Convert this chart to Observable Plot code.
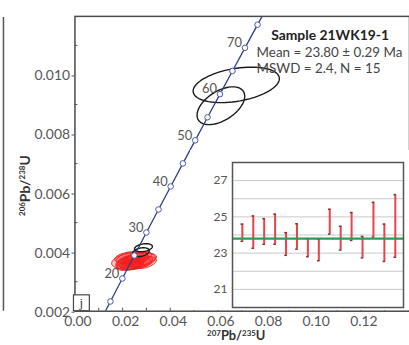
<!DOCTYPE html>
<html>
<head>
<meta charset="utf-8">
<script src="https://cdn.jsdelivr.net/npm/d3@7"></script>
<script src="https://cdn.jsdelivr.net/npm/@observablehq/plot@0.6"></script>
<style>
  html, body { margin: 0; padding: 0; background: #fff; overflow: hidden; }
  #wrap { position: relative; width: 409px; height: 345px; overflow: hidden; }
  #main { position: absolute; left: 0; top: 0; }
  #inset { position: absolute; left: 190px; top: 150px; }
</style>
</head>
<body>
<div id="wrap"><div id="main"></div><div id="inset"></div></div>
<script>
// Concordia reference points (age in Ma) with their isotope ratios
const concordiaAge = [10, 15, 20, 25, 30, 35, 40, 45, 50, 55, 60, 65, 70, 75, 80];
const concordia207 = [0.0098972, 0.0148824, 0.0198923, 0.0249269, 0.0299863, 0.0350707, 0.0401802, 0.0453150,
                      0.0504750, 0.0556606, 0.0608718, 0.0661088, 0.0713714, 0.0766601, 0.0819749];
const concordia206 = [0.0015525, 0.0023296, 0.0031073, 0.0038857, 0.0046646, 0.0054441, 0.0062243, 0.0070050,
                      0.0077864, 0.0085684, 0.0093509, 0.0101341, 0.0109179, 0.0117023, 0.0124873];
const labelledAges = [20, 30, 40, 50, 60, 70];

// Inherited / discordant analyses (black error ellipses): centre, 2σ half-widths, error correlation
const oldX   = [0.0677, 0.06125, 0.02875, 0.0277];
const oldY   = [0.009664, 0.008958, 0.004151, 0.004000];
const oldSX  = [0.0181, 0.0100, 0.00375, 0.0035];
const oldSY  = [0.00060, 0.00064, 0.000135, 0.00015];
const oldRho = [0.35, 0.5, 0.3, 0.3];

// Analyses used in the weighted mean (red error ellipses)
const meanX   = [0.02458, 0.02333, 0.02583, 0.02208, 0.02708, 0.02417, 0.02125, 0.02792,
                 0.02292, 0.02542, 0.02042, 0.02667, 0.02375, 0.02250, 0.02917];
const meanY   = [0.003714, 0.003647, 0.003781, 0.003680, 0.003680, 0.003580, 0.003781, 0.003848,
                 0.003815, 0.003613, 0.003613, 0.003748, 0.003748, 0.003546, 0.003647];
const meanSX  = [0.00917, 0.00583, 0.00500, 0.00417, 0.00542, 0.00458, 0.00375, 0.00417,
                 0.00625, 0.00667, 0.00333, 0.00750, 0.00375, 0.00500, 0.00500];
const meanSY  = [0.00030, 0.00023, 0.00020, 0.00020, 0.00020, 0.00017, 0.00017, 0.00017,
                 0.00020, 0.00020, 0.00017, 0.00023, 0.00013, 0.00017, 0.00020];
const meanRho = [0.3, 0.4, 0.35, 0.3, 0.4, 0.3, 0.35, 0.4, 0.3, 0.35, 0.3, 0.4, 0.3, 0.35, 0.4];

// Axis ticks of the concordia diagram
const xTicks = [0, 0.02, 0.04, 0.06, 0.08, 0.10, 0.12];
const xMinorTicks = [0, 0.01, 0.02, 0.03, 0.04, 0.05, 0.06, 0.07, 0.08, 0.09, 0.10, 0.11, 0.12, 0.13];
const yTicks = [0.002, 0.004, 0.006, 0.008, 0.010];
const yMinorTicks = [0.003, 0.005, 0.007, 0.009, 0.011];

// Weighted-mean inset: individual 206Pb/238U ages with 2σ error bars (Ma)
const spotNo   = [1, 2, 3, 4, 5, 6, 7, 8, 9, 10, 11, 12, 13, 14, 15];
const ageHigh  = [24.60, 25.05, 24.90, 25.15, 24.13, 24.62, 23.80, 23.77, 25.42, 24.48, 25.24, 23.92, 25.80, 24.60, 26.23];
const ageLow   = [23.65, 23.27, 23.49, 23.49, 22.88, 23.22, 22.80, 22.58, 24.05, 23.17, 23.70, 22.74, 23.89, 22.54, 22.77];
const meanAge  = 23.80;
const insetTicks = [21, 23, 25, 27];
const insetGrid  = [21, 22, 23, 24, 25, 26, 27];

// Closed outline of a correlated error ellipse, in data units
function ellipsePoints(cx, cy, sx, sy, rho, id) {
  const k = Math.sqrt(1 - rho * rho);
  const pts = [];
  for (let i = 0; i <= 72; i++) {
    const t = (i / 72) * 2 * Math.PI;
    pts.push({id, x: cx + sx * Math.cos(t), y: cy + sy * (rho * Math.cos(t) + k * Math.sin(t))});
  }
  return pts;
}
const oldEllipses = oldX.flatMap((_, i) => ellipsePoints(oldX[i], oldY[i], oldSX[i], oldSY[i], oldRho[i], "o" + i));
const meanEllipses = meanX.flatMap((_, i) => ellipsePoints(meanX[i], meanY[i], meanSX[i], meanSY[i], meanRho[i], "m" + i));

const concordia = concordiaAge.map((a, i) => ({age: a, x: concordia207[i], y: concordia206[i]}));
const concordiaKnots = concordia.filter(d => d.age >= 15 && d.age <= 75);
const concordiaLabels = concordia.filter(d => labelledAges.includes(d.age));

const W = 412, H = 345, ML = 75, MT = 16, MB = 32;
const frameW = W - ML, frameH = H - MT - MB;

const main = Plot.plot({
  width: W, height: H,
  marginLeft: ML, marginRight: 0, marginTop: MT, marginBottom: MB,
  x: {domain: [0, frameW / 2400]},
  y: {domain: [0.002, 0.002 + frameH / 29750]},
  style: {fontFamily: "Lato, 'Noto Sans', sans-serif", fontSize: "14px", color: "#555", background: "#fff", overflow: "visible"},
  marks: [
    Plot.axisX({ticks: xTicks, tickSize: 0, tickPadding: 5, dx: 3, tickFormat: d3.format(".2f"), label: null, fill: "#555"}),
    Plot.axisY({ticks: yTicks, tickSize: 3, tickPadding: 2, dy: 1, tickFormat: d3.format(".3f"), label: null, fill: "#555", stroke: "#555"}),
    Plot.ruleX(xMinorTicks, {insetTop: frameH - 3, stroke: "#555", strokeWidth: 1}),
    Plot.ruleY(yMinorTicks, {insetRight: frameW - 3, stroke: "#555", strokeWidth: 1}),
    Plot.line(meanEllipses, {x: "x", y: "y", z: "id", fill: "#ff1c1c", fillOpacity: 0.26, stroke: "#e4221f", strokeWidth: 1, clip: true}),
    Plot.line(oldEllipses, {x: "x", y: "y", z: "id", stroke: "#1a1a1a", strokeWidth: 1.4, clip: true}),
    Plot.line(concordia, {x: "x", y: "y", stroke: "#2f3c86", strokeWidth: 1.3, clip: true}),
    Plot.dot(concordiaKnots, {x: "x", y: "y", r: 2.8, fill: "#fff", stroke: "#4a58a8", strokeWidth: 1}),
    Plot.text(concordiaLabels, {x: "x", y: "y", text: d => String(d.age), textAnchor: "end", dx: -3, dy: -5, fontSize: 13, fill: "#555"}),
    Plot.text(["Sample 21WK19-1"], {frameAnchor: "top-left", dx: 332 - ML, dy: 30 - MT, textAnchor: "middle", lineAnchor: "top", fontWeight: "bold", fontSize: 14, fill: "#222"}),
    Plot.text(["Mean = 23.80 \u00b1 0.29 Ma"], {frameAnchor: "top-left", dx: 258 - ML, dy: 47 - MT, textAnchor: "start", lineAnchor: "top", fontSize: 13.5, fill: "#444"}),
    Plot.text(["MSWD = 2.4, N = 15"], {frameAnchor: "top-left", dx: 258 - ML, dy: 63 - MT, textAnchor: "start", lineAnchor: "top", fontSize: 13.5, fill: "#444"}),
    Plot.frame({stroke: "#4a4a4a", strokeWidth: 1.5})
  ]
});
document.getElementById("main").appendChild(main);

// Axis titles with superscript mass numbers, panel letter, and the edge of the neighbouring panel
const svg = d3.select(main);
function isotopeTitle(sel, parts) {
  parts.forEach(([sup, base]) => {
    sel.append("tspan").attr("font-size", 8).attr("dy", -4.5).text(sup);
    sel.append("tspan").attr("dy", 4.5).text(base);
  });
}
const xt = svg.append("text").attr("x", 238).attr("y", 343).attr("text-anchor", "middle")
  .attr("font-weight", "bold").attr("font-size", 13).attr("fill", "#333");
isotopeTitle(xt, [["207", "Pb/"], ["235", "U"]]);
const yt = svg.append("text").attr("transform", "translate(30,187) rotate(-90)").attr("text-anchor", "middle")
  .attr("font-weight", "bold").attr("font-size", 14).attr("fill", "#333");
isotopeTitle(yt, [["206", "Pb/"], ["238", "U"]]);
svg.append("rect").attr("x", 74).attr("y", 297).attr("width", 16).attr("height", 16)
  .attr("fill", "#fff").attr("stroke", "#444").attr("stroke-width", 1.2);
svg.append("text").attr("x", 82).attr("y", 309).attr("text-anchor", "middle")
  .attr("font-family", "'Liberation Serif', serif").attr("font-size", 13).attr("fill", "#333").text("j");
svg.append("line").attr("x1", 3.5).attr("x2", 3.5).attr("y1", 17).attr("y2", 313)
  .attr("stroke", "#555").attr("stroke-width", 1.5);

// Weighted-mean age inset
const inset = Plot.plot({
  width: 219, height: 160,
  marginLeft: 42, marginRight: 6, marginTop: 12, marginBottom: 3,
  x: {domain: [0.1, 15.75], axis: null},
  y: {domain: [20, 28], axis: null},
  style: {fontFamily: "Lato, 'Noto Sans', sans-serif", fontSize: "12px", color: "#555", background: "#fff"},
  marks: [
    Plot.ruleY(insetGrid, {stroke: "#c8c8c8", strokeWidth: 1}),
    Plot.axisY({ticks: insetTicks, tickSize: 0, tickPadding: 5, label: null, fill: "#555"}),
    Plot.ruleX(spotNo, {x: d => d, y1: (d, i) => ageLow[i], y2: (d, i) => ageHigh[i], stroke: "#e8434b", strokeWidth: 2}),
    Plot.ruleY(spotNo, {y: (d, i) => ageHigh[i], x1: d => d - 0.12, x2: d => d + 0.12, stroke: "#8a2f33", strokeWidth: 1.5}),
    Plot.ruleY(spotNo, {y: (d, i) => ageLow[i], x1: d => d - 0.12, x2: d => d + 0.12, stroke: "#8a2f33", strokeWidth: 1.5}),
    Plot.ruleY([meanAge], {stroke: "#2e9a56", strokeWidth: 2.2}),
    Plot.frame({stroke: "#555", strokeWidth: 1.5})
  ]
});
document.getElementById("inset").appendChild(inset);
</script>
</body>
</html>
